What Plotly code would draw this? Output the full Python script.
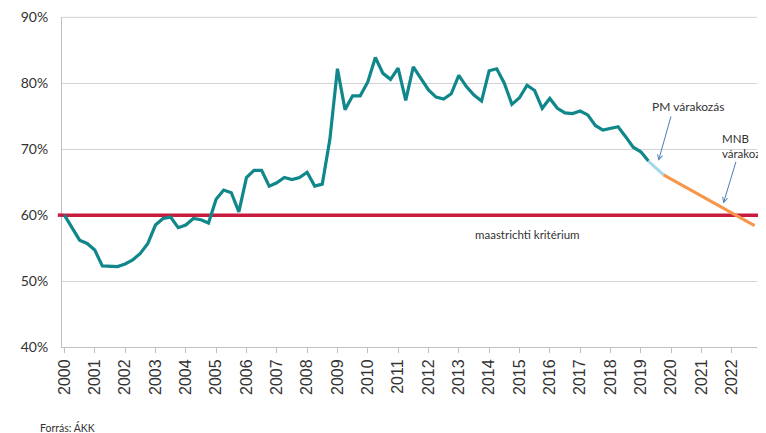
import plotly.graph_objects as go

# Quarterly debt ratio (% of GDP), 2000Q1 - 2019Q2
start_year = 2000
debt = [60.0, 58.0, 56.2, 55.7, 54.7, 52.3, 52.3, 52.2,
        52.6, 53.2, 54.2, 55.7, 58.5, 59.5, 59.7, 58.1,
        58.5, 59.5, 59.3, 58.8, 62.4, 63.8, 63.4, 60.5,
        65.7, 66.8, 66.8, 64.4, 64.9, 65.7, 65.4, 65.7,
        66.5, 64.4, 64.7, 71.5, 82.2, 76.0, 78.1, 78.1,
        80.2, 83.9, 81.5, 80.6, 82.3, 77.4, 82.5, 80.7,
        79.0, 77.9, 77.6, 78.4, 81.2, 79.5, 78.2, 77.3,
        81.9, 82.2, 80.0, 76.8, 77.8, 79.7, 78.9, 76.2,
        77.7, 76.2, 75.5, 75.4, 75.8, 75.2, 73.6, 72.9,
        73.1, 73.4, 71.9, 70.3, 69.6, 68.2]
debt_x = [start_year + i / 4 for i in range(len(debt))]

pm_x = [2019.25, 2019.75]
pm_y = [68.2, 66.1]

mnb_x = [2019.75, 2020.75, 2021.75, 2022.75]
mnb_y = [66.1, 63.5, 61.0, 58.4]

maastricht = 60
x_range = [1999.92, 2022.83]

year_ticks = list(range(2000, 2023))
year_labels = [str(y) for y in year_ticks]
y_ticks = [40, 50, 60, 70, 80, 90]
y_labels = [f"{v}%" for v in y_ticks]

TEAL = "#10878A"
LIGHT = "#A3D8EC"
ORANGE = "#F5964B"
RED = "#C71C3E"
ARROW = "#4F7DB5"
TXT = "#333333"
GRID = "#D3D3D3"
FONT = "Lato"

fig = go.Figure()
fig.add_trace(go.Scatter(x=x_range, y=[maastricht, maastricht], mode="lines",
                         line=dict(color=RED, width=3.5), hoverinfo="skip"))
fig.add_trace(go.Scatter(x=debt_x, y=debt, mode="lines",
                         line=dict(color=TEAL, width=3.2)))
fig.add_trace(go.Scatter(x=pm_x, y=pm_y, mode="lines",
                         line=dict(color=LIGHT, width=3)))
fig.add_trace(go.Scatter(x=mnb_x, y=mnb_y, mode="lines",
                         line=dict(color=ORANGE, width=3)))

# top gridline (at the edge of the plot area)
fig.add_shape(type="line", xref="paper", yref="paper", x0=0, x1=1,
              y0=0.999, y1=0.999, line=dict(color=GRID, width=1),
              layer="above")

# red line slight extensions beyond plot area
for x0, x1 in [(-0.006, 0.0), (1.0, 1.0115)]:
    fig.add_shape(type="line", xref="paper", yref="y", x0=x0, x1=x1,
                  y0=maastricht, y1=maastricht, line=dict(color=RED, width=3.5),
                  layer="above")

fig.add_annotation(x=2019.58, y=68.23, ax=13, ay=-46, text="", showarrow=True,
                   arrowhead=5, arrowsize=1, arrowwidth=1, arrowcolor=ARROW)
fig.add_annotation(x=2021.72, y=61.77, ax=13, ay=-43, text="", showarrow=True,
                   arrowhead=5, arrowsize=1, arrowwidth=1, arrowcolor=ARROW)
fig.add_annotation(x=2020.56, y=76.5, text="PM várakozás", showarrow=False,
                   font=dict(family=FONT, size=12, color=TXT))
fig.add_annotation(x=2021.62, y=70.5, text="MNB<br>várakozás", showarrow=False,
                   xanchor="left", align="left",
                   font=dict(family=FONT, size=11.5, color=TXT))
fig.add_annotation(x=2015.28, y=57.1, text="maastrichti kritérium", showarrow=False,
                   font=dict(family=FONT, size=11.5, color=TXT))
fig.add_annotation(xref="paper", yref="paper", x=-0.035, y=-0.245,
                   xanchor="left", yanchor="middle", text="Forrás: ÁKK",
                   showarrow=False, font=dict(family=FONT, size=10.5, color=TXT))

# page body adds an 8px offset; figure is sized so the plot area lands where the reference has it
fig.update_layout(
    width=758, height=425,
    margin=dict(l=54, r=9, t=9, b=86, autoexpand=False),
    paper_bgcolor="white", plot_bgcolor="white",
    showlegend=False,
    font=dict(family=FONT, color=TXT),
)
fig.update_xaxes(range=x_range, tickvals=year_ticks, ticktext=year_labels,
                 tickangle=-90, ticks="outside", ticklen=5, tickcolor="#BFBFBF",
                 showgrid=False, showline=True, linecolor="#BFBFBF", zeroline=False,
                 automargin=False,
                 tickfont=dict(family="Liberation Sans", size=16, color=TXT))
fig.update_yaxes(range=[40, 90.05], tickvals=y_ticks, ticktext=y_labels,
                 showgrid=True, gridcolor=GRID, gridwidth=1,
                 showline=True, linecolor="#BFBFBF", zeroline=False,
                 automargin=False, ticklabelstandoff=10,
                 tickfont=dict(family=FONT, size=14, color=TXT))

fig.write_html("out.html")
